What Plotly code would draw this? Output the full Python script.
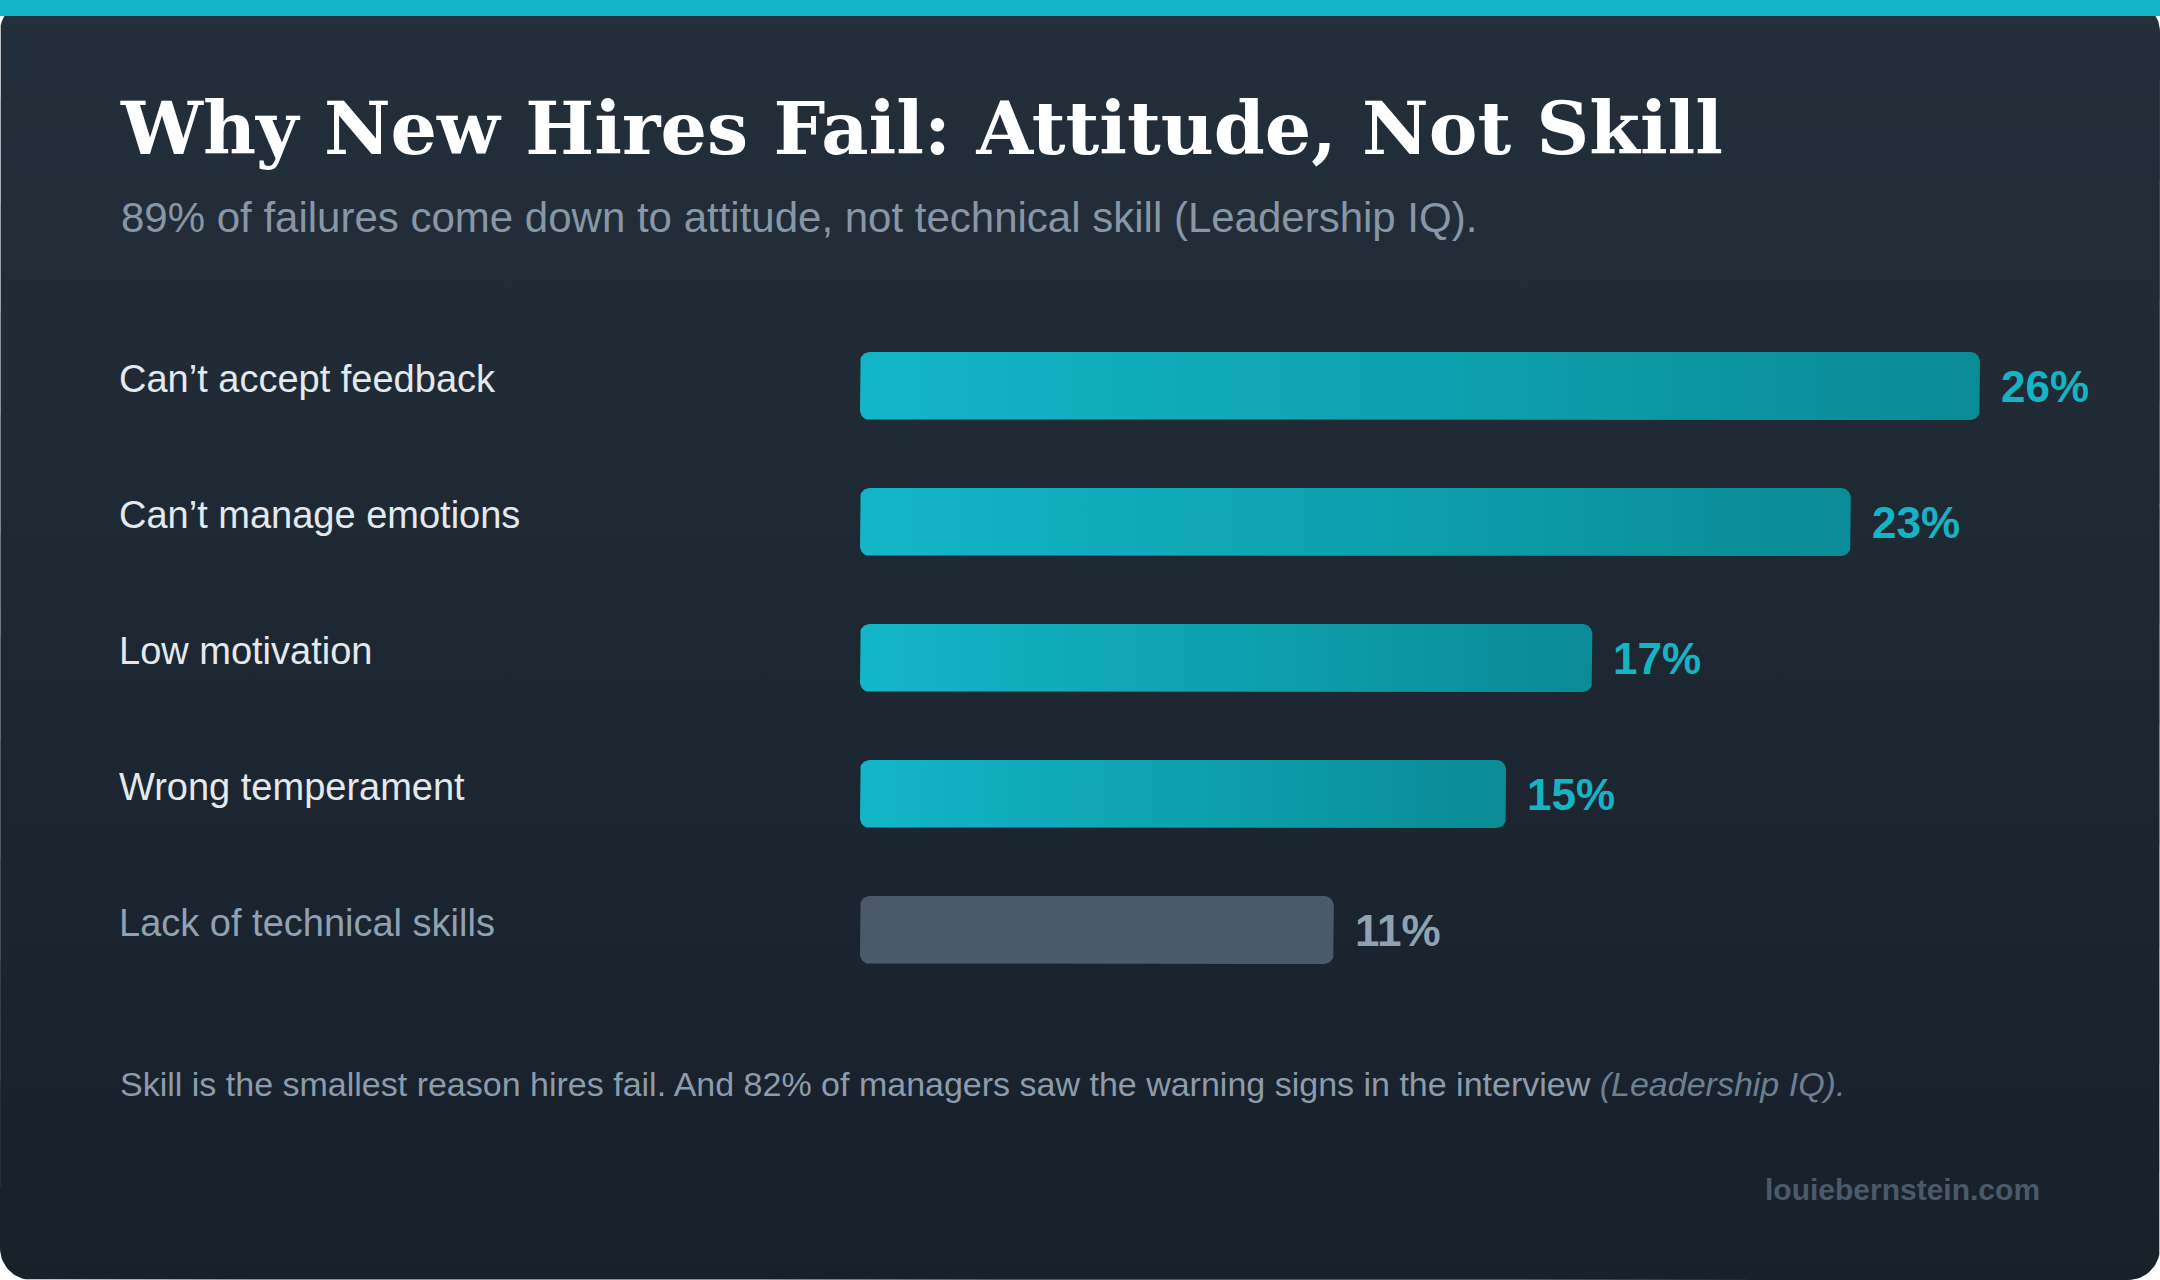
import plotly.graph_objects as go
import numpy as np

# ---- data ----
categories = ["Can’t accept feedback", "Can’t manage emotions", "Low motivation",
              "Wrong temperament", "Lack of technical skills"]
values = [26, 23, 17, 15, 11]
value_labels = ["26%", "23%", "17%", "15%", "11%"]
is_skill = [False, False, False, False, True]

title = "Why New Hires Fail: Attitude, Not Skill"
subtitle = "89% of failures come down to attitude, not technical skill (Leadership IQ)."
footnote_main = "Skill is the smallest reason hires fail. And 82% of managers saw the warning signs in the interview "
footnote_src = "(Leadership IQ)."
watermark = "louiebernstein.com"

# ---- layout constants ----
W, H = 2160, 1280
BAR_X0, BAR_X1 = 860, 1980          # pixel extent of the value axis (0 .. max)
ROW0, ROW_STEP = 386, 136           # pixel centre of first row, row spacing
BAR_HALF = 0.25                     # bar half-thickness in row units
RADIUS_PX = 10

TEAL_L, TEAL_R = "#12b6c7", "#0a8b96"
GREY_BAR = "#4a5a68"
TEAL_TXT = "#14b4c5"
GREY_TXT = "#8fa2b2"

vmax = max(values)
px_per_x = (BAR_X1 - BAR_X0) / vmax
y_top = -ROW0 / ROW_STEP
y_bot = (H - ROW0) / ROW_STEP


def rounded_rect(x0, x1, y0, y1, rx, ry, n=10):
    xs, ys = [], []
    corners = [
        (x1 - rx, y0 + ry, -np.pi / 2, 0),
        (x1 - rx, y1 - ry, 0, np.pi / 2),
        (x0 + rx, y1 - ry, np.pi / 2, np.pi),
        (x0 + rx, y0 + ry, np.pi, 3 * np.pi / 2),
    ]
    for cx, cy, a0, a1 in corners:
        t = np.linspace(a0, a1, n)
        xs += list(cx + rx * np.cos(t))
        ys += list(cy + ry * np.sin(t))
    xs.append(xs[0]); ys.append(ys[0])
    return xs, ys


fig = go.Figure()

# card background (decorative, pixel axes)
cx, cy = rounded_rect(0, W, 0, H, 32, 32, n=16)
fig.add_trace(go.Scatter(
    x=cx, y=cy, mode="lines", fill="toself", line=dict(width=0),
    fillgradient=dict(type="vertical", start=0, stop=H,
                      colorscale=[[0, "#232f3a"], [1, "#18202a"]]),
    hoverinfo="skip", showlegend=False, xaxis="x", yaxis="y"))

# bars
rx = RADIUS_PX / px_per_x
ry = RADIUS_PX / ROW_STEP
for i, (cat, v, sk) in enumerate(zip(categories, values, is_skill)):
    bx, by = rounded_rect(0, v, i - BAR_HALF, i + BAR_HALF, rx, ry)
    if sk:
        fig.add_trace(go.Scatter(
            x=bx, y=by, mode="lines", fill="toself", fillcolor=GREY_BAR,
            line=dict(width=0), name=cat, hoverinfo="skip", showlegend=False,
            xaxis="x2", yaxis="y2"))
    else:
        fig.add_trace(go.Scatter(
            x=bx, y=by, mode="lines", fill="toself", line=dict(width=0),
            fillgradient=dict(type="horizontal", start=0, stop=v,
                              colorscale=[[0, TEAL_L], [1, TEAL_R]]),
            name=cat, hoverinfo="skip", showlegend=False,
            xaxis="x2", yaxis="y2"))

annotations = []


def px(x):
    return x / W


def py(y):
    return 1 - y / H


# title & subtitle
annotations.append(dict(text=title, x=px(118), y=py(128), xref="paper", yref="paper",
                        xanchor="left", yanchor="middle", showarrow=False,
                        font=dict(family="DejaVu Serif", size=73, color="#ffffff", weight="bold")))
annotations.append(dict(text=subtitle, x=px(119), y=py(218), xref="paper", yref="paper",
                        xanchor="left", yanchor="middle", showarrow=False,
                        font=dict(family="Liberation Sans", size=42, color="#8797a6")))

# category labels and value labels
for i, (cat, v, lab, sk) in enumerate(zip(categories, values, value_labels, is_skill)):
    annotations.append(dict(text=cat, x=px(117), y=i, xref="paper", yref="y2",
                            xanchor="left", yanchor="middle", yshift=7, showarrow=False,
                            font=dict(family="Liberation Sans", size=38,
                                      color=GREY_TXT if sk else "#e3e9ef")))
    annotations.append(dict(text=lab, x=v, y=i, xref="x2", yref="y2",
                            xanchor="left", yanchor="middle", xshift=19, showarrow=False,
                            font=dict(family="Liberation Sans", size=44, weight="bold",
                                      color=GREY_TXT if sk else TEAL_TXT)))

# footnote
annotations.append(dict(
    text=footnote_main + "<i><span style='color:#6d8090'>" + footnote_src + "</span></i>",
    x=px(118), y=py(1084), xref="paper", yref="paper", xanchor="left", yanchor="middle",
    showarrow=False, font=dict(family="Liberation Sans", size=34, color="#8d9cab")))

# watermark
annotations.append(dict(text=watermark, x=px(2042), y=py(1189), xref="paper", yref="paper",
                        xanchor="right", yanchor="middle", showarrow=False,
                        font=dict(family="Liberation Sans", size=30, weight="bold",
                                  color="#4a5a68")))

fig.update_layout(
    width=W, height=H,
    margin=dict(l=0, r=0, t=0, b=0, pad=0),
    paper_bgcolor="#ffffff",
    plot_bgcolor="rgba(0,0,0,0)",
    showlegend=False,
    xaxis=dict(domain=[0, 1], range=[0, W], visible=False, fixedrange=True),
    yaxis=dict(domain=[0, 1], range=[H, 0], visible=False, fixedrange=True),
    xaxis2=dict(domain=[BAR_X0 / W, BAR_X1 / W], range=[0, vmax], visible=False,
                fixedrange=True, anchor="y2"),
    yaxis2=dict(domain=[0, 1], range=[y_bot, y_top], visible=False,
                fixedrange=True, anchor="x2"),
    annotations=annotations,
    shapes=[dict(type="rect", xref="paper", yref="paper", x0=0, x1=1,
                 y0=py(16), y1=1, fillcolor="#12b5c6", line=dict(width=0), layer="above")],
)

fig.write_html("out.html", config={"displayModeBar": False},
               post_script="document.body.style.margin='0';document.body.style.overflow='hidden';")
